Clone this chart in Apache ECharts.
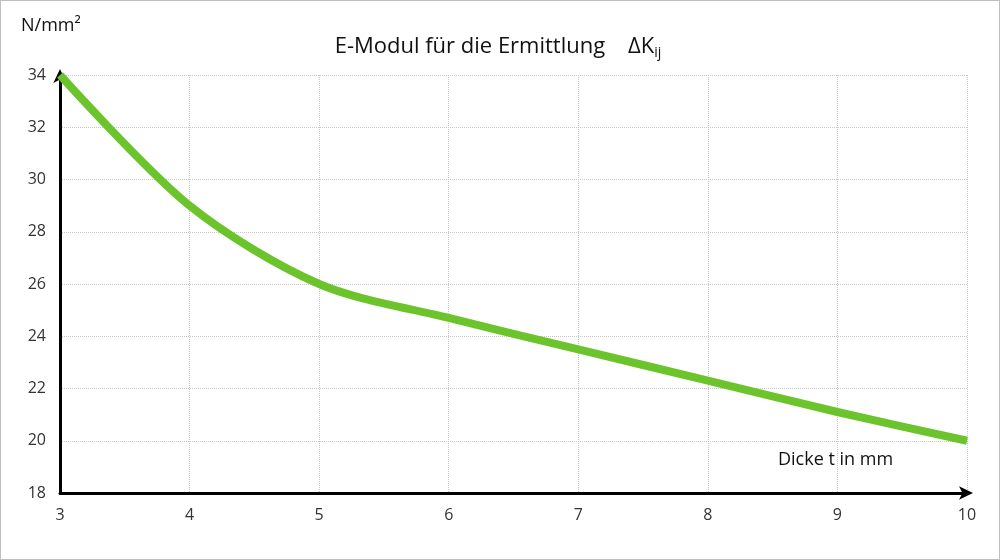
<!DOCTYPE html>
<html><head><meta charset="utf-8">
<script src="https://cdn.jsdelivr.net/npm/echarts@6/dist/echarts.min.js"></script>
<style>html,body{margin:0;padding:0;background:#fff}#c{width:1000px;height:560px;box-sizing:border-box;border:1px solid #bfbfbf}</style>
</head><body><div id="c"></div>
<script>
const thickness = [3, 4, 5, 6, 7, 8, 9, 10];
const modulus = [34, 29, 26, 24.7, 23.5, 22.3, 21.1, 20];
const chart = echarts.init(document.getElementById('c'));
const F = "'Open Sans', 'Liberation Sans', sans-serif";
chart.setOption({
  animation: false,
  textStyle: { fontFamily: F },
  title: {
    text: '{a|E-Modul für die Ermittlung    ΔK}{s|ij}',
    left: 492, top: 28, textAlign: 'center',
    textStyle: { fontWeight: 'normal', rich: { a: { fontSize: 22, color: '#111', fontFamily: F, fontWeight: 'normal' }, s: { fontSize: 14, color: '#111', verticalAlign: 'bottom', padding: [12, 0, 0, 0], fontFamily: F, fontWeight: 'normal' } } }
  },
  graphic: [
    { type: 'text', left: 777, top: 450, style: { text: 'Dicke t in mm', fontSize: 18, fill: '#111', fontFamily: F } },
    { type: 'text', left: 20, top: 16, style: { text: 'N/mm²', fontSize: 18, fill: '#111', fontFamily: F } }
  ],
  grid: { left: 59, right: 32, top: 74, bottom: 66 },
  xAxis: {
    type: 'value', min: 3, max: 10, interval: 1,
    axisLine: { lineStyle: { color: '#000', width: 3 }, symbol: ['none', 'arrow'], symbolSize: [10, 14], symbolOffset: [0, 6] },
    axisTick: { show: false },
    axisLabel: { color: '#333', fontSize: 16, margin: 14, fontFamily: F },
    splitLine: { lineStyle: { color: '#c8c8c8', type: 'dotted' } }
  },
  yAxis: {
    type: 'value', min: 18, max: 34, interval: 2,
    axisLine: { show: true, lineStyle: { color: '#000', width: 3 }, symbol: ['none', 'arrow'], symbolSize: [10, 14], symbolOffset: [0, 6] },
    axisTick: { show: false },
    axisLabel: { color: '#333', fontSize: 16, margin: 14, fontFamily: F },
    splitLine: { lineStyle: { color: '#c8c8c8', type: 'dotted' } }
  },
  series: [{
    type: 'line', data: thickness.map((x, i) => [x, modulus[i]]),
    smooth: 0.3, showSymbol: false,
    lineStyle: { color: '#6bc42b', width: 8 }
  }]
});
</script></body></html>
